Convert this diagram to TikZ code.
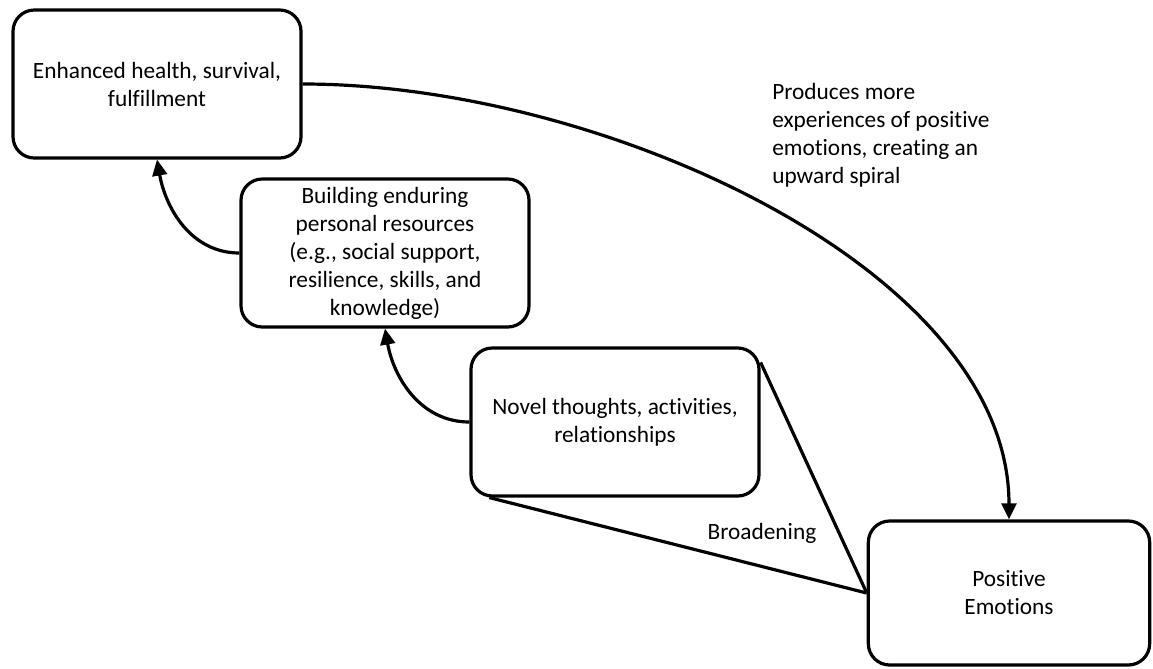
\documentclass[tikz,border=0pt]{standalone}
\usepackage{fontspec}
\setmainfont{Carlito}[Ligatures=NoCommon]
\usetikzlibrary{arrows.meta,calc}
\begin{document}
\begin{tikzpicture}[x=0.75pt,y=-0.75pt,
  txt/.style={font=\fontsize{17.5}{21}\selectfont},
  box/.style={txt, draw, line width=2.4pt, rounded corners=16pt,
    minimum width=216pt, minimum height=111pt, align=center, inner sep=0pt},
  link/.style={line width=2.4pt},
  arrowlink/.style={link, -{Triangle[length=12pt,width=11pt]}},
  lbl/.style={txt, inner sep=0pt}]
\useasboundingbox (0,0) rectangle (1153,668);

% the four stages of the spiral
\node[box] (health) at (157,84) {Enhanced health, survival,\\fulfillment};
\node[box] (build) at (385,253) {Building enduring\\personal resources\\(e.g., social support,\\resilience, skills, and\\knowledge)};
\node[box] (novel) at (615,422) {Novel thoughts, activities,\\relationships};
\node[box, minimum width=211pt, minimum height=108pt] (pos) at (1009,593) {Positive\\Emotions};

% upward steps
\draw[arrowlink] (build.west) to[out=180,in=-80] (health.south);
\draw[arrowlink] (novel.west) to[out=180,in=-80] (build.south);

% feedback loop back to positive emotions
\draw[arrowlink] (health.east) .. controls ($(health.east)+(300,0)$) and ($(pos.north)+(0,-250)$) .. (pos.north);
\node[lbl, anchor=west, align=left] (produces) at (772,135)
  {Produces more\\experiences of positive\\emotions, creating an\\upward spiral};

% broadening wedge
\draw[link] ($(novel.south west)+(20,0)$) -- (pos.west);
\draw[link] ($(novel.north east)+(0,16)$) -- (pos.west);
\node[lbl] (broad) at (762,533) {Broadening};
\end{tikzpicture}
\end{document}
